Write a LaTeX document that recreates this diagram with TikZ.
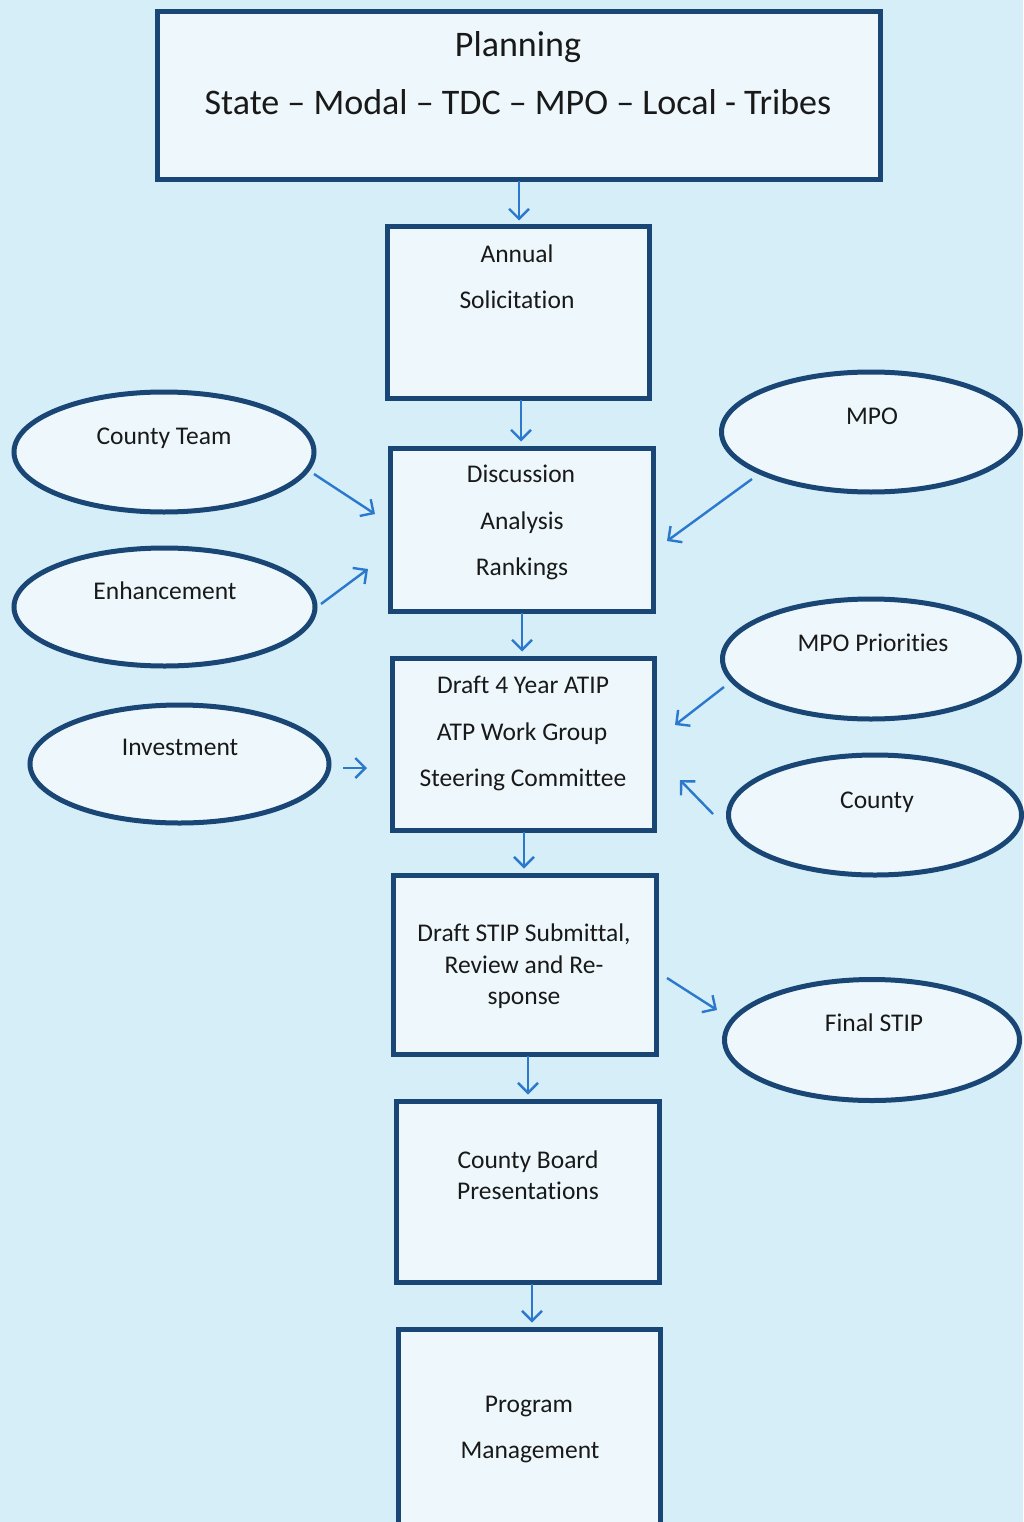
\documentclass[tikz,border=0pt]{standalone}
\usepackage{fontspec}
\setmainfont{Carlito}[Ligatures={NoCommon}]
\usetikzlibrary{arrows.meta,shapes.geometric}
\definecolor{bgblue}{HTML}{D5EEF8}
\definecolor{fillblue}{HTML}{EEF8FC}
\definecolor{edgeblue}{HTML}{1A4675}
\definecolor{arrowblue}{HTML}{2C78CC}
\tikzset{
  box/.style={draw=edgeblue,line width=5pt,fill=fillblue,rectangle,inner sep=0pt},
  oval/.style={draw=edgeblue,line width=5pt,fill=fillblue,ellipse,inner sep=0pt},
  txt/.style={font=\fontsize{25.5}{30}\selectfont,text=black!90,inner sep=0pt,align=center,text height=17pt,text depth=5pt},
  bigtxt/.style={font=\fontsize{36}{42}\selectfont,text=black!90,inner sep=0pt,text height=24pt,text depth=7pt},
  conn/.style={draw=arrowblue,line width=2.4pt,-{Straight Barb[length=10pt,width=20pt,line width=2.4pt]}}
}
\begin{document}
\begin{tikzpicture}[x=1pt,y=-1pt]
\fill[bgblue] (0,0) rectangle (1023,1522);
\useasboundingbox (0,0) rectangle (1023,1522);

% boxes
\node[box,minimum width=723pt,minimum height=168pt] (plan) at (518.5,96) {};
\node[box,minimum width=262pt,minimum height=171pt] (annual) at (518,312.5) {};
\node[box,minimum width=263pt,minimum height=163pt] (disc) at (521.5,529.5) {};
\node[box,minimum width=262pt,minimum height=172pt] (atip) at (523,744) {};
\node[box,minimum width=263pt,minimum height=179pt] (stip) at (524.5,964.5) {};
\node[box,minimum width=263pt,minimum height=181pt] (cb) at (527.5,1191.5) {};
\node[box,minimum width=262pt,minimum height=231pt] (pm) at (529,1444.5) {};

% ellipses
\node[oval,minimum width=300pt,minimum height=120pt] (ct) at (164,452) {};
\node[oval,minimum width=301pt,minimum height=118pt] (enh) at (164.5,607) {};
\node[oval,minimum width=299pt,minimum height=118pt] (inv) at (179.5,764) {};
\node[oval,minimum width=299pt,minimum height=120pt] (mpo) at (871,432) {};
\node[oval,minimum width=297pt,minimum height=120pt] (mpop) at (871,659) {};
\node[oval,minimum width=293pt,minimum height=120pt] (cty) at (875,815) {};
\node[oval,minimum width=295pt,minimum height=121pt] (fstip) at (872,1040) {};

% texts
\node[bigtxt] (tplan1) at (518,48) {Planning};
\node[bigtxt] (tplan2) at (518,106) {State -- Modal -- TDC -- MPO -- Local - Tribes};
\node[txt] (tann1) at (517,256) {Annual};
\node[txt] (tann2) at (517,302) {Solicitation};
\node[txt] (tdisc1) at (521,476) {Discussion};
\node[txt] (tdisc2) at (522,523) {Analysis};
\node[txt] (tdisc3) at (522,569) {Rankings};
\node[txt] (tatip1) at (523,687) {Draft 4 Year ATIP};
\node[txt] (tatip2) at (522,734) {ATP Work Group};
\node[txt] (tatip3) at (523,780) {Steering Committee};
\node[txt] (tstip1) at (524,935) {Draft STIP Submittal,};
\node[txt] (tstip2) at (524,967) {Review and Re-};
\node[txt] (tstip3) at (524,998) {sponse};
\node[txt] (tcb1) at (528,1162) {County Board};
\node[txt] (tcb2) at (528,1193) {Presentations};
\node[txt] (tpm1) at (529,1406) {Program};
\node[txt] (tpm2) at (530,1452) {Management};
\node[txt] (tct) at (164,438) {County Team};
\node[txt] (tenh) at (165,593) {Enhancement};
\node[txt] (tinv) at (180,749) {Investment};
\node[txt] (tmpo) at (872,418) {MPO};
\node[txt] (tmpop) at (873,645) {MPO Priorities};
\node[txt] (tcty) at (877,802) {County};
\node[txt] (tfstip) at (874,1025) {Final STIP};

% vertical connectors
\draw[conn,shorten >=4pt] (plan.south) ++(0.5,-1) coordinate (p0) -- (p0 |- annual.north);
\draw[conn,shorten >=4pt] (annual.south) ++(3,-1) coordinate (a0) -- (a0 |- disc.north);
\draw[conn,shorten >=4pt] (disc.south) ++(0.5,-1) coordinate (d0) -- (d0 |- atip.north);
\draw[conn,shorten >=4pt] (atip.south) ++(1,-1) coordinate (t0) -- (t0 |- stip.north);
\draw[conn,shorten >=4pt] (stip.south) ++(3.5,-1) coordinate (s0) -- (s0 |- cb.north);
\draw[conn,shorten >=4pt] (cb.south) ++(4.5,-1) coordinate (c0) -- (c0 |- pm.north);

% side connectors
\coordinate (ctA) at (314,474);  \coordinate (ctB) at (375,514);
\coordinate (enA) at (321,604);  \coordinate (enB) at (368,569);
\coordinate (inA) at (343,768);  \coordinate (inB) at (367,768);
\coordinate (mpA) at (752,479);  \coordinate (mpB) at (667,541);
\coordinate (mqA) at (724,687);  \coordinate (mqB) at (675,725);
\coordinate (cyA) at (713,814);  \coordinate (cyB) at (680,780);
\coordinate (fsA) at (667,978);  \coordinate (fsB) at (717,1010);
\draw[conn] (ctA) -- (ctB);
\draw[conn] (enA) -- (enB);
\draw[conn] (inA) -- (inB);
\draw[conn] (mpA) -- (mpB);
\draw[conn] (mqA) -- (mqB);
\draw[conn] (cyA) -- (cyB);
\draw[conn] (fsA) -- (fsB);
\end{tikzpicture}
\end{document}
